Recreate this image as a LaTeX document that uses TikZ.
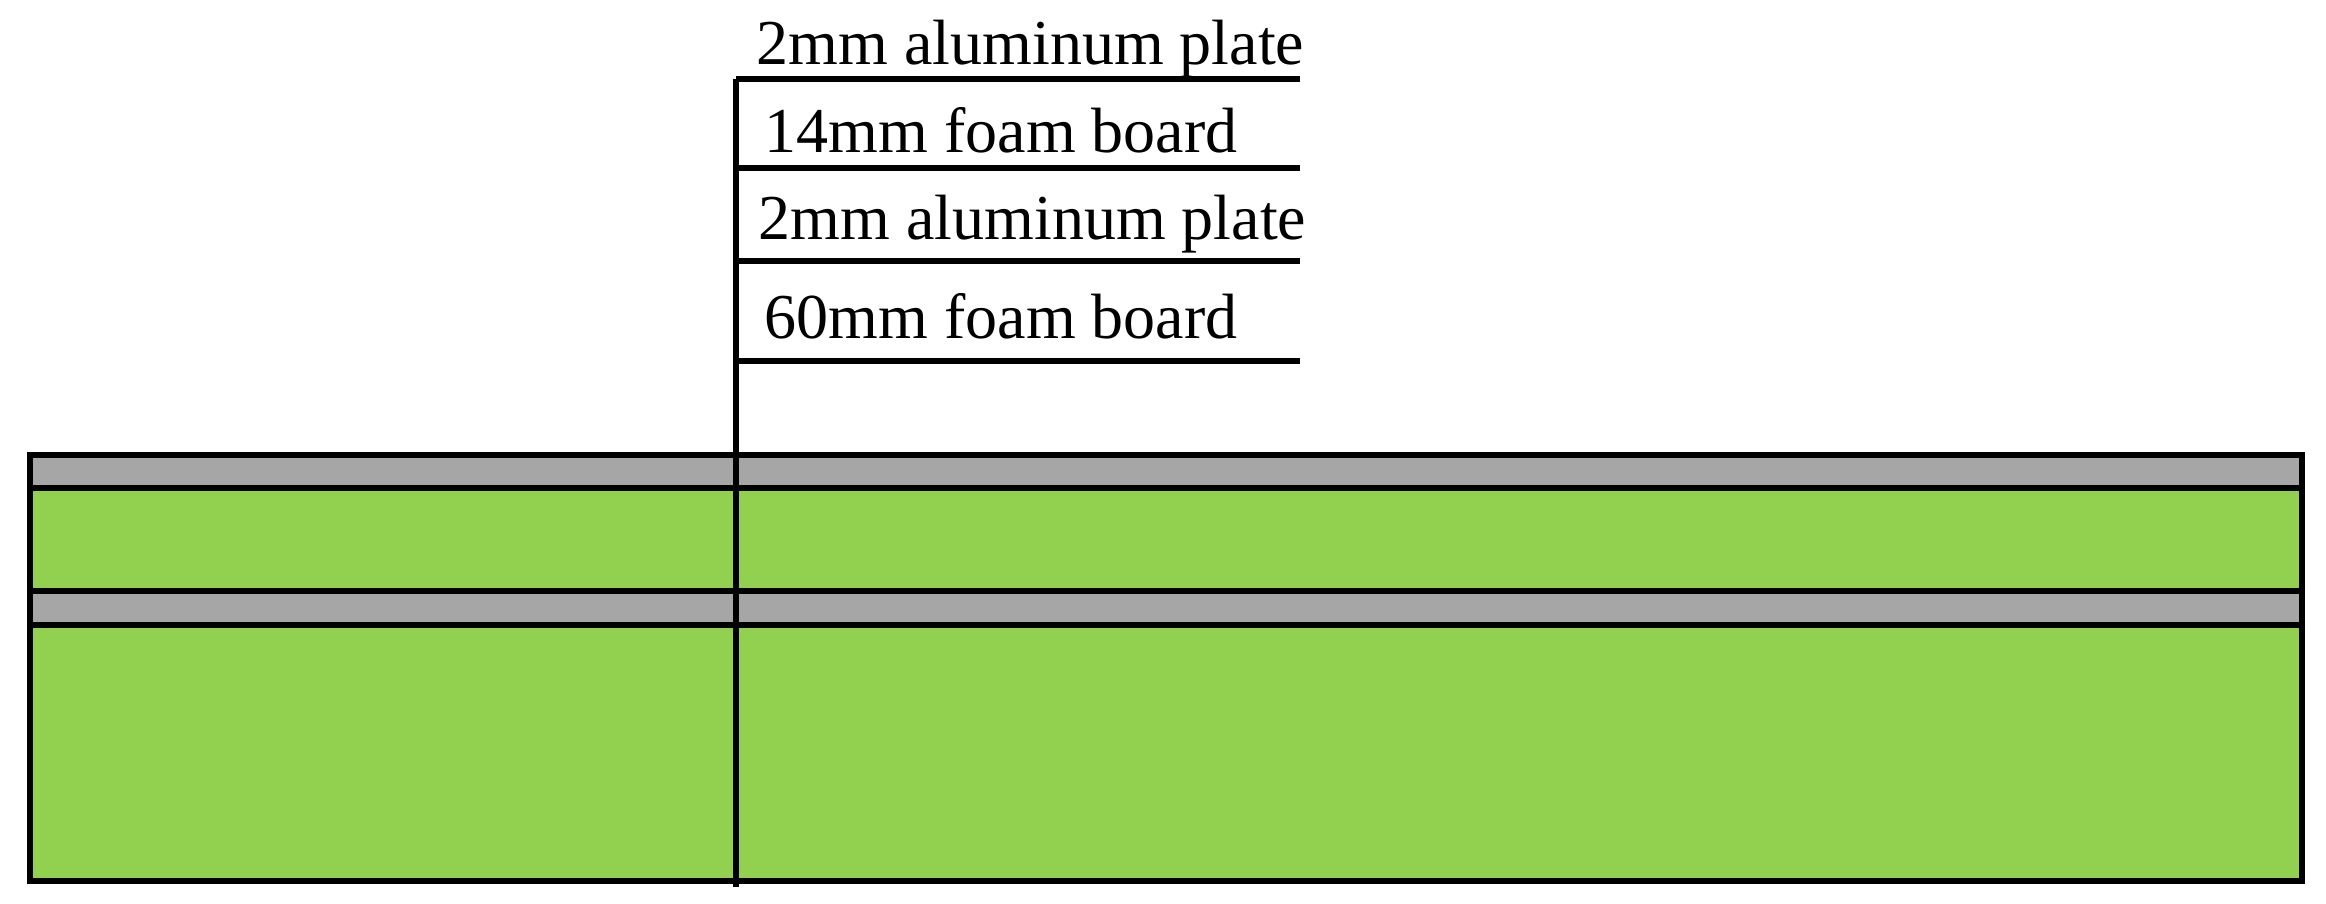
\documentclass[tikz,border=0pt]{standalone}
\usepackage{fontspec}
\setmainfont{Liberation Serif}
\definecolor{alugray}{HTML}{A6A6A6}
\definecolor{foamgreen}{HTML}{92D050}
\begin{document}
\begin{tikzpicture}[x=0.01cm,y=-0.01cm,
  edge/.style={draw=black,line width=1.45pt},
  alu/.style={fill=alugray,edge},
  foam/.style={fill=foamgreen,edge},
  lbl/.style={anchor=base west,inner sep=0pt,font=\fontsize{18.2pt}{20pt}\selectfont}]
\useasboundingbox (0,0) rectangle (2326,904);
% layers
\draw[alu]  (30,455) rectangle (2302,488);
\draw[foam] (30,488) rectangle (2302,591);
\draw[alu]  (30,591) rectangle (2302,625);
\draw[foam] (30,625) rectangle (2302,881);
\draw[edge,line width=1.7pt] (30,455) rectangle (2302,881);
% leader
\coordinate (top) at (736,79);
\coordinate (bot) at (736,887);
\coordinate (e1) at (1300,79);
\coordinate (s2) at (736,168);
\coordinate (e2) at (1300,168);
\coordinate (s3) at (736,261);
\coordinate (e3) at (1300,261);
\coordinate (s4) at (736,361);
\coordinate (e4) at (1300,361);
\draw[edge] (top) -- (bot);
\draw[edge] (top) -- (e1);
\draw[edge] (s2) -- (e2);
\draw[edge] (s3) -- (e3);
\draw[edge] (s4) -- (e4);
\node[lbl] (t1) at (756,65) {2mm aluminum plate};
\node[lbl] (t2) at (764,153) {14mm foam board};
\node[lbl] (t3) at (758,240) {2mm aluminum plate};
\node[lbl] (t4) at (764,339) {60mm foam board};
\end{tikzpicture}
\end{document}
